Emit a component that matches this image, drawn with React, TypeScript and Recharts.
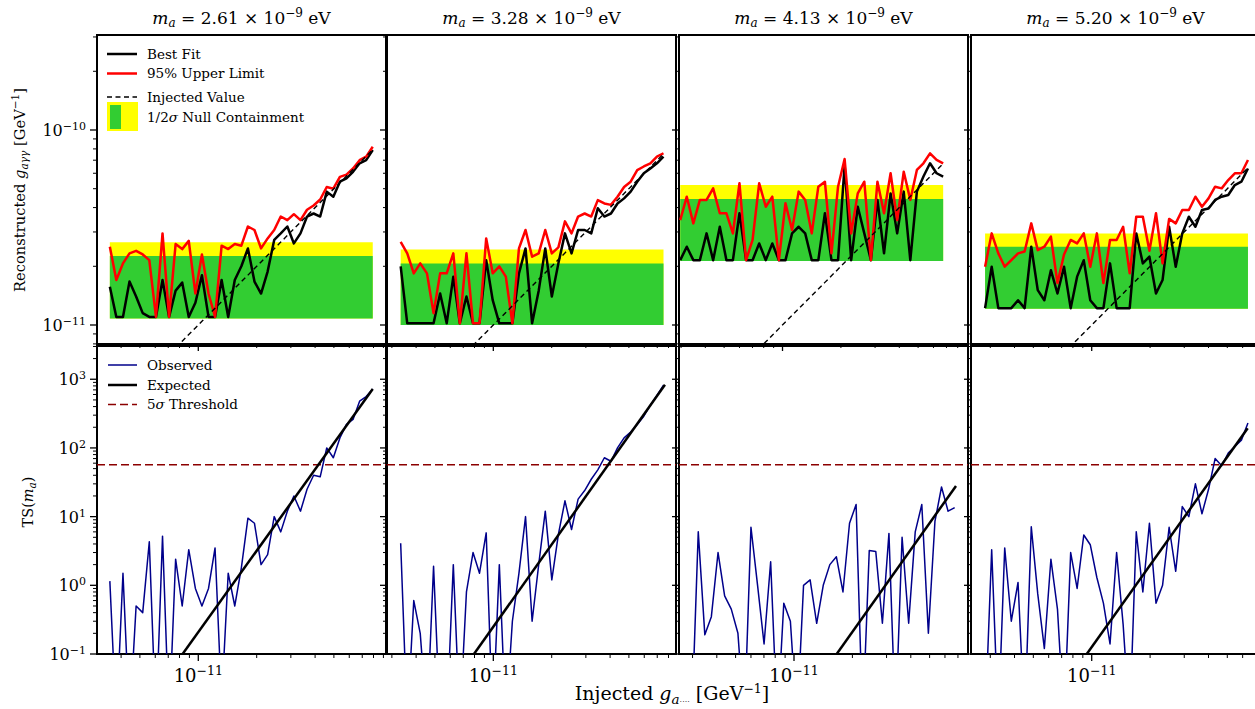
import React from 'react';
import { ComposedChart, Line, XAxis, YAxis, ReferenceArea, ReferenceLine } from 'recharts';

const FONT = '"DejaVu Serif", "Liberation Serif", serif';

// column titles: axion mass in units of 1e-9 eV
const masses = ['2.61', '3.28', '4.13', '5.20'];

// injected couplings, units of 1e-11 GeV^-1
const injected261 = [0.35, 0.378, 0.409, 0.442, 0.478, 0.517, 0.559, 0.605, 0.654, 0.707, 0.764, 0.826, 0.893, 0.966, 1.044, 1.129, 1.22, 1.319, 1.426, 1.542, 1.667, 1.802, 1.948, 2.106, 2.277, 2.462, 2.661, 2.877, 3.11, 3.363, 3.635, 3.93, 4.249, 4.593, 4.966, 5.369, 5.804, 6.275, 6.784, 7.334, 7.929];
const injected328 = [0.333, 0.36, 0.389, 0.42, 0.455, 0.492, 0.532, 0.575, 0.622, 0.672, 0.727, 0.786, 0.849, 0.919, 0.993, 1.074, 1.16, 1.254, 1.356, 1.466, 1.585, 1.714, 1.853, 2.003, 2.165, 2.341, 2.531, 2.736, 2.958, 3.198, 3.457, 3.737, 4.041, 4.368, 4.723, 5.106, 5.52, 5.968, 6.452, 6.975, 7.54];
const injected413 = [0.297, 0.321, 0.347, 0.375, 0.406, 0.439, 0.475, 0.514, 0.555, 0.6, 0.649, 0.701, 0.758, 0.82, 0.886, 0.958, 1.036, 1.12, 1.211, 1.309, 1.415, 1.53, 1.654, 1.788, 1.933, 2.09, 2.259, 2.443, 2.64, 2.855, 3.086, 3.337, 3.607, 3.9, 4.216, 4.558, 4.928, 5.327, 5.76, 6.227, 6.732];
const injected520 = [0.282, 0.305, 0.33, 0.356, 0.385, 0.417, 0.451, 0.488, 0.527, 0.57, 0.616, 0.666, 0.72, 0.779, 0.841, 0.91, 0.983, 1.063, 1.149, 1.243, 1.344, 1.452, 1.57, 1.697, 1.835, 1.984, 2.145, 2.319, 2.507, 2.711, 2.93, 3.168, 3.425, 3.702, 4.003, 4.327, 4.678, 5.058, 5.468, 5.911, 6.391];

// reconstructed best fit, units of 1e-11 GeV^-1
const bestFit261 = [1.57, 1.1, 1.1, 1.67, 1.4, 1.15, 1.1, 1.1, 1.7, 1.1, 1.5, 1.65, 1.1, 1.3, 1.8, 1.1, 1.1, 1.7, 1.1, 1.7, 2.0, 2.47, 1.67, 1.45, 1.88, 2.73, 2.95, 3.2, 2.62, 2.95, 3.6, 3.73, 3.6, 4.83, 4.55, 5.43, 5.65, 6.1, 6.75, 7.0, 7.9];
const bestFit328 = [2.0, 1.02, 1.02, 1.02, 1.02, 1.02, 1.45, 1.02, 1.77, 1.02, 1.4, 1.02, 1.02, 2.15, 1.34, 1.02, 1.02, 1.02, 1.84, 2.47, 1.02, 1.5, 2.47, 1.4, 2.07, 2.95, 2.33, 3.07, 3.07, 2.95, 3.97, 3.6, 3.73, 4.2, 4.46, 4.83, 5.43, 6.0, 6.35, 6.75, 7.3];
const bestFit413 = [2.15, 2.52, 2.15, 2.15, 2.95, 2.15, 3.19, 2.15, 2.15, 3.74, 2.15, 2.15, 2.62, 2.15, 2.62, 2.15, 2.15, 2.95, 3.19, 2.95, 2.15, 2.15, 3.74, 2.15, 2.15, 6.6, 2.15, 4.04, 2.95, 2.15, 4.38, 2.33, 4.73, 2.95, 4.83, 2.15, 4.83, 5.77, 6.75, 6.0, 5.77];
const bestFit520 = [1.22, 1.99, 1.22, 1.22, 1.22, 1.34, 1.22, 2.52, 1.51, 1.34, 1.91, 1.45, 1.99, 1.22, 1.77, 2.15, 1.34, 1.22, 1.22, 2.07, 1.22, 1.22, 1.22, 2.95, 2.07, 2.24, 1.45, 1.7, 3.19, 1.99, 2.95, 3.59, 3.19, 3.89, 3.96, 4.38, 4.55, 4.64, 5.22, 5.43, 6.35];

// 95% upper limit, units of 1e-11 GeV^-1
const upper261 = [2.52, 1.7, 2.07, 2.33, 2.4, 2.3, 2.15, 1.1, 2.95, 1.1, 2.6, 2.45, 2.7, 1.45, 2.3, 1.45, 1.1, 2.55, 2.45, 2.6, 2.55, 3.2, 3.07, 2.47, 2.78, 3.07, 3.6, 3.45, 3.7, 3.45, 3.9, 4.1, 4.4, 5.1, 5.0, 5.75, 5.9, 6.35, 7.0, 7.3, 8.2];
const upper328 = [2.67, 2.33, 1.84, 2.07, 1.84, 1.15, 1.84, 1.84, 2.33, 1.02, 2.33, 1.02, 1.02, 2.78, 1.84, 2.0, 1.77, 1.02, 2.47, 3.07, 2.24, 2.33, 3.07, 2.33, 2.5, 3.4, 2.95, 3.6, 3.73, 3.6, 4.37, 4.2, 4.13, 4.55, 5.1, 5.43, 6.23, 6.5, 6.75, 7.3, 7.6];
const upper413 = [3.45, 4.55, 3.32, 4.38, 4.38, 5.02, 3.74, 3.74, 2.95, 5.33, 2.15, 2.73, 5.33, 4.04, 4.55, 2.15, 4.21, 3.07, 4.83, 4.38, 2.95, 5.12, 5.43, 2.33, 5.12, 7.1, 2.95, 4.73, 5.43, 2.15, 5.43, 3.74, 6.0, 3.45, 6.11, 4.38, 6.24, 6.75, 7.59, 7.02, 6.75];
const upper520 = [1.99, 2.95, 2.33, 1.99, 2.15, 2.33, 2.38, 3.32, 2.42, 2.52, 2.84, 1.64, 2.3, 2.73, 2.62, 2.95, 1.99, 2.95, 1.64, 2.73, 2.73, 3.19, 1.84, 3.59, 3.59, 2.4, 3.74, 2.07, 3.5, 3.32, 3.89, 3.89, 4.55, 4.04, 4.46, 5.12, 5.02, 5.54, 6.0, 6.0, 7.02];

// null containment: [floor, 1 sigma, 2 sigma], units of 1e-11 GeV^-1
const band261 = [1.08, 2.26, 2.66];
const band328 = [1.0, 2.07, 2.44];
const band413 = [2.13, 4.43, 5.22];
const band520 = [1.21, 2.52, 2.95];

// observed TS (0.01 = below the plotted range)
const observed261 = [1.15, 0.01, 1.5, 0.01, 0.5, 0.4, 4.3, 0.01, 5.2, 0.01, 2.4, 0.5, 3.3, 0.9, 0.5, 0.9, 3.5, 0.02, 1.5, 0.5, 1.8, 9.5, 8.0, 2.0, 2.8, 10, 6, 12, 20, 12, 25, 40, 38, 100, 72, 140, 220, 260, 480, 560, 720];
const observed328 = [4.1, 0.01, 0.6, 0.2, 0.01, 1.9, 0.01, 0.01, 2.0, 0.01, 0.8, 3.0, 1.5, 5.8, 0.01, 2.0, 0.01, 0.3, 1.5, 10, 0.3, 2.0, 12, 1.2, 5.5, 17, 6.5, 18, 24, 35, 48, 72, 64, 100, 140, 170, 220, 290, 420, 580, 820];
const observed413 = [0.01, 6.0, 0.19, 0.35, 3.0, 0.7, 0.45, 0.2, 0.01, 7.0, 1.0, 0.14, 2.2, 0.01, 0.55, 0.3, 0.01, 1.0, 1.2, 0.28, 1.0, 2.0, 2.6, 0.8, 8.0, 15, 0.01, 3.2, 3.1, 0.28, 5.7, 0.01, 5.0, 0.28, 6.0, 15, 0.2, 8.5, 27, 12, 13.5];
const observed520 = [0.01, 3.3, 0.01, 3.5, 0.3, 1.1, 0.01, 7.1, 0.75, 0.12, 2.4, 0.45, 0.01, 3.0, 0.9, 5.4, 3.9, 1.3, 0.55, 0.14, 3.0, 0.27, 0.01, 6.0, 0.8, 8.0, 0.55, 1.0, 7.0, 1.6, 14, 10, 30, 11, 25, 70, 55, 84, 105, 130, 230];

// expected TS line end points (g in 1e-11 GeV^-1, TS)
const expectedG261 = [0.83, 7.93];
const expectedTS261 = [0.1, 720];
const expectedG328 = [0.795, 7.67];
const expectedTS328 = [0.1, 830];
const expectedG413 = [1.66, 6.84];
const expectedTS413 = [0.1, 28];
const expectedG520 = [0.943, 6.37];
const expectedTS520 = [0.1, 194];

const threshold5sigma = 57;

// axis limits
const topXDomains = [[0.3005, 9.28], [0.2831, 8.746], [0.2927, 9.04], [0.2386, 7.373]];
const botXDomains = [[0.3005, 9.28], [0.2831, 8.746], [0.2554, 7.887], [0.2386, 7.373]];
const topYDomain = [0.799, 30.7];
const botYDomain = [0.1, 3048];

// ticks
const xMajor = [1];
const xLabels = ['−11'];
const xMinor = [0.3, 0.4, 0.5, 0.6, 0.7, 0.8, 0.9, 2, 3, 4, 5, 6, 7, 8, 9];
const topYMajor = [1, 10];
const topYLabels = ['−11', '−10'];
const topYMinor = [0.8, 0.9, 2, 3, 4, 5, 6, 7, 8, 9, 20, 30];
const tsMajor = [0.1, 1, 10, 100, 1000];
const tsLabels = ['−1', '0', '1', '2', '3'];
const tsMinor = [0.2, 0.3, 0.4, 0.5, 0.6, 0.7, 0.8, 0.9, 2, 3, 4, 5, 6, 7, 8, 9, 20, 30, 40, 50, 60, 70, 80, 90, 200, 300, 400, 500, 600, 700, 800, 900, 2000, 3000];

// layout
const PW = 289;
const TOP_Y = 35;
const TOP_H = 309;
const BOT_Y = 346;
const BOT_H = 308;
const PAD_L = 70;
const PAD_R = 10;
const PAD_T = 10;
const PAD_B = 40;
const panelLefts = [97, 387, 679, 971];

const panels = [
  { injected: injected261, bestFit: bestFit261, upper: upper261, band: band261, observed: observed261, expG: expectedG261, expTS: expectedTS261 },
  { injected: injected328, bestFit: bestFit328, upper: upper328, band: band328, observed: observed328, expG: expectedG328, expTS: expectedTS328 },
  { injected: injected413, bestFit: bestFit413, upper: upper413, band: band413, observed: observed413, expG: expectedG413, expTS: expectedTS413 },
  { injected: injected520, bestFit: bestFit520, upper: upper520, band: band520, observed: observed520, expG: expectedG520, expTS: expectedTS520 },
];

const within = (vals: number[], d: number[]) => vals.filter((v) => v >= d[0] && v <= d[1]).sort((a, b) => a - b);

const yTick = (majors: number[], labels: string[], show: boolean) => (props: any) => {
  const { x, y, payload } = props;
  const mi = majors.indexOf(payload.value);
  const len = mi >= 0 ? 7 : 4;
  return (
    <g>
      <line x1={x} x2={x - len} y1={y} y2={y} stroke="#000" strokeWidth={mi >= 0 ? 1.3 : 1} />
      {mi >= 0 && show && (
        <text x={x - len - 4} y={y + 6} textAnchor="end" fontFamily={FONT} fontSize={16} fill="#000">
          10<tspan dy={-6} fontSize={11}>{labels[mi]}</tspan>
        </text>
      )}
    </g>
  );
};

const xTick = (show: boolean) => (props: any) => {
  const { x, y, payload } = props;
  const mi = xMajor.indexOf(payload.value);
  const len = mi >= 0 ? 7 : 4;
  return (
    <g>
      <line x1={x} x2={x} y1={y} y2={y + len} stroke="#000" strokeWidth={mi >= 0 ? 1.3 : 1} />
      {mi >= 0 && show && (
        <text x={x} y={y + 28} textAnchor="middle" fontFamily={FONT} fontSize={18} fill="#000">
          10<tspan dy={-7} fontSize={12.5}>{xLabels[mi]}</tspan>
        </text>
      )}
    </g>
  );
};

function TopPanel({ i }: { i: number }) {
  const p = panels[i];
  const xd = topXDomains[i];
  const data = p.injected.map((g, k) => ({ g, best: p.bestFit[k], upper: p.upper[k], inj: g }));
  const g0 = p.injected[0];
  const g1 = p.injected[p.injected.length - 1];
  return (
    <div style={{ position: 'absolute', left: panelLefts[i] - PAD_L, top: TOP_Y - PAD_T }}>
      <ComposedChart width={PAD_L + PW + PAD_R} height={PAD_T + TOP_H + PAD_B} data={data} margin={{ top: PAD_T, right: PAD_R, bottom: 0, left: 0 }}>
        <XAxis dataKey="g" type="number" scale="log" domain={xd} allowDataOverflow ticks={within([...xMajor, ...xMinor], xd)} interval={0} tickSize={0} tickMargin={0} tickLine={false} axisLine={false} height={PAD_B} tick={xTick(false)} />
        <YAxis type="number" scale="log" domain={topYDomain} allowDataOverflow ticks={within([...topYMajor, ...topYMinor], topYDomain)} interval={0} tickSize={0} tickMargin={0} tickLine={false} axisLine={false} width={PAD_L} tick={yTick(topYMajor, topYLabels, i === 0)} />
        <ReferenceArea x1={g0} x2={g1} y1={p.band[0]} y2={p.band[2]} fill="#ffff00" fillOpacity={1} stroke="none" />
        <ReferenceArea x1={g0} x2={g1} y1={p.band[0]} y2={p.band[1]} fill="#32cd32" fillOpacity={1} stroke="none" />
        <Line dataKey="best" stroke="#000" strokeWidth={2.5} strokeLinejoin="round" dot={false} isAnimationActive={false} />
        <Line dataKey="upper" stroke="#ff0000" strokeWidth={2.5} strokeLinejoin="round" dot={false} isAnimationActive={false} />
        <Line dataKey="inj" stroke="#000" strokeWidth={1.4} strokeDasharray="5 3.5" dot={false} isAnimationActive={false} />
        <ReferenceArea x1={xd[0]} x2={xd[1]} y1={topYDomain[0]} y2={topYDomain[1]} fill="none" fillOpacity={0} stroke="#000" strokeWidth={2} ifOverflow="visible" />
      </ComposedChart>
    </div>
  );
}

function BottomPanel({ i }: { i: number }) {
  const p = panels[i];
  const xd = botXDomains[i];
  const data = p.injected.map((g, k) => ({ g, ts: p.observed[k] }));
  const exp = p.expG.map((g, k) => ({ g, ts: p.expTS[k] }));
  return (
    <div style={{ position: 'absolute', left: panelLefts[i] - PAD_L, top: BOT_Y - PAD_T }}>
      <ComposedChart width={PAD_L + PW + PAD_R} height={PAD_T + BOT_H + PAD_B} data={data} margin={{ top: PAD_T, right: PAD_R, bottom: 0, left: 0 }}>
        <XAxis dataKey="g" type="number" scale="log" domain={xd} allowDataOverflow ticks={within([...xMajor, ...xMinor], xd)} interval={0} tickSize={0} tickMargin={0} tickLine={false} axisLine={false} height={PAD_B} tick={xTick(true)} />
        <YAxis type="number" scale="log" domain={botYDomain} allowDataOverflow ticks={within([...tsMajor, ...tsMinor], botYDomain)} interval={0} tickSize={0} tickMargin={0} tickLine={false} axisLine={false} width={PAD_L} tick={yTick(tsMajor, tsLabels, i === 0)} />
        <ReferenceLine y={threshold5sigma} stroke="#8b0000" strokeWidth={1.5} strokeDasharray="8 4" />
        <Line dataKey="ts" stroke="#00008b" strokeWidth={1.5} strokeLinejoin="round" dot={false} isAnimationActive={false} />
        <Line data={exp} dataKey="ts" stroke="#000" strokeWidth={2.5} dot={false} isAnimationActive={false} />
        <ReferenceArea x1={xd[0]} x2={xd[1]} y1={botYDomain[0]} y2={botYDomain[1]} fill="none" fillOpacity={0} stroke="#000" strokeWidth={2} ifOverflow="visible" />
      </ComposedChart>
    </div>
  );
}

function Overlay() {
  return (
    <svg width={1255} height={709} style={{ position: 'absolute', left: 0, top: 0, pointerEvents: 'none' }} fontFamily={FONT} fill="#000">
      {masses.map((m, i) => (
        <text key={m} x={panelLefts[i] + PW / 2} y={24} textAnchor="middle" fontSize={17}>
          <tspan fontStyle="italic">m</tspan>
          <tspan fontStyle="italic" fontSize={12} dy={3}>a</tspan>
          <tspan dy={-3}>{` = ${m} × 10`}</tspan>
          <tspan fontSize={12} dy={-7}>−9</tspan>
          <tspan dy={7}>{' eV'}</tspan>
        </text>
      ))}
      <text transform="translate(25,190) rotate(-90)" textAnchor="middle" fontSize={14.7}>
        {'Reconstructed '}
        <tspan fontStyle="italic">g</tspan>
        <tspan fontStyle="italic" fontSize={10.5} dy={3}>aγγ</tspan>
        <tspan dy={-3}>{' [GeV'}</tspan>
        <tspan fontSize={10.5} dy={-6}>−1</tspan>
        <tspan dy={6}>]</tspan>
      </text>
      <text transform="translate(33,502) rotate(-90)" textAnchor="middle" fontSize={14.5}>
        {'TS('}
        <tspan fontStyle="italic">m</tspan>
        <tspan fontStyle="italic" fontSize={10.5} dy={3}>a</tspan>
        <tspan dy={-3}>)</tspan>
      </text>
      <text x={672} y={700} textAnchor="middle" fontSize={19}>
        {'Injected '}
        <tspan fontStyle="italic">g</tspan>
        <tspan fontStyle="italic" fontSize={13.5} dy={4}>a</tspan>
        <tspan fontSize={8}>····</tspan>
        <tspan dy={-4}>{' [GeV'}</tspan>
        <tspan fontSize={12.5} dy={-7}>−1</tspan>
        <tspan dy={7}>]</tspan>
      </text>

      {/* top legend */}
      <line x1={107} x2={137} y1={54} y2={54} stroke="#000" strokeWidth={2.5} />
      <text x={147} y={58.5} fontSize={13.5}>Best Fit</text>
      <line x1={107} x2={137} y1={73.5} y2={73.5} stroke="#ff0000" strokeWidth={2.5} />
      <text x={147} y={78} fontSize={13.5}>95% Upper Limit</text>
      <line x1={107} x2={137} y1={97} y2={97} stroke="#000" strokeWidth={1.4} strokeDasharray="5 3.5" />
      <text x={147} y={101.5} fontSize={13.5}>Injected Value</text>
      <rect x={107} y={102} width={31} height={29} fill="#ffff00" />
      <rect x={110} y={105} width={11} height={24} fill="#32cd32" />
      <text x={147} y={121.5} fontSize={13.5}>
        {'1/2'}
        <tspan fontStyle="italic">σ</tspan>
        {' Null Containment'}
      </text>

      {/* bottom legend */}
      <line x1={108} x2={137} y1={365} y2={365} stroke="#00008b" strokeWidth={1.5} />
      <text x={147} y={369.5} fontSize={13.5}>Observed</text>
      <line x1={108} x2={137} y1={385} y2={385} stroke="#000" strokeWidth={2.5} />
      <text x={147} y={389.5} fontSize={13.5}>Expected</text>
      <line x1={108} x2={137} y1={404.5} y2={404.5} stroke="#8b0000" strokeWidth={1.5} strokeDasharray="8 4" />
      <text x={147} y={409} fontSize={13.5}>
        {'5'}
        <tspan fontStyle="italic">σ</tspan>
        {' Threshold'}
      </text>
    </svg>
  );
}

export default function App() {
  return (
    <div style={{ position: 'fixed', left: 0, top: 0, width: 1255, height: 709, overflow: 'hidden', background: '#fff' }}>
      {[0, 1, 2, 3].map((i) => <TopPanel key={`t${i}`} i={i} />)}
      {[0, 1, 2, 3].map((i) => <BottomPanel key={`b${i}`} i={i} />)}
      <Overlay />
    </div>
  );
}
